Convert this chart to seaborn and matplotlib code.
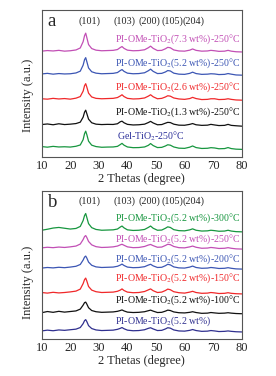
import numpy as np
import pandas as pd
import seaborn as sns
import matplotlib.pyplot as plt

# === Data ===
# shared 2-theta sampling positions (degree)
two_theta = [10, 12, 14, 16, 18, 20, 22, 23.5, 24.5, 25.0, 25.4, 25.8, 26.4, 27.5, 29, 31, 33, 35,
             36.5, 37.5, 38.1, 38.8, 40, 42, 44, 46, 47.3, 48.1, 49, 50.5, 52, 53.3, 54.1, 55.0, 56.2,
             58, 60, 61.8, 62.8, 64, 66, 68, 69.2, 70.5, 72, 74, 75.2, 76.3, 78, 80]

# panel a: intensity above each trace's own baseline (a.u.)
a_labels = ["Gel-TiO$_2$-250°C",
            "PI-OMe-TiO$_2$(1.3 wt%)-250°C",
            "PI-OMe-TiO$_2$(2.6 wt%)-250°C",
            "PI-OMe-TiO$_2$(5.2 wt%)-250°C",
            "PI-OMe-TiO$_2$(7.3 wt%)-250°C"]
a_gel = [2.6, 2.0, 2.8, 2.2, 2.4, 2.1, 2.9, 4.2, 9.5, 15.5, 18.0, 14.5, 8.0, 4.0, 2.6, 1.9, 2.1, 2.2,
         2.8, 4.6, 5.8, 4.0, 2.2, 1.5, 1.6, 2.2, 3.8, 5.6, 3.6, 1.6, 1.8, 3.2, 4.4, 4.0, 2.2,
         1.0, 0.8, 2.0, 3.2, 1.6, 0.7, 0.9, 1.5, 1.2, 0.4, 0.6, 1.6, 0.6, 0.0, -0.2]
a_13 = [1.6, 2.2, 1.4, 2.4, 1.6, 2.0, 2.6, 4.0, 9.0, 14.0, 16.0, 12.5, 7.0, 3.4, 2.0, 1.6, 1.8, 1.7,
        2.4, 4.4, 5.0, 3.4, 1.8, 1.2, 1.4, 2.0, 3.6, 4.8, 3.2, 1.4, 1.6, 3.0, 3.8, 3.6, 2.0,
        1.0, 0.9, 1.8, 2.6, 1.4, 0.8, 1.0, 1.8, 1.2, 0.6, 0.8, 1.8, 0.8, 0.4, 0.0]
a_26 = [1.4, 1.0, 1.8, 1.2, 1.6, 1.0, 2.0, 3.6, 9.0, 14.5, 16.5, 13.0, 7.0, 3.2, 1.8, 1.4, 1.6, 1.8,
        2.6, 4.2, 5.4, 3.6, 1.8, 1.2, 1.4, 2.2, 4.0, 5.4, 3.4, 1.4, 1.8, 3.2, 4.4, 4.0, 2.2,
        1.2, 0.8, 1.6, 2.8, 1.6, 0.6, 0.8, 1.4, 1.4, 0.6, 0.8, 1.4, 0.8, 0.2, 0.0]
a_52 = [1.2, 1.8, 1.0, 1.6, 1.2, 1.4, 2.2, 4.0, 10.0, 15.5, 17.5, 13.5, 7.2, 3.4, 2.0, 1.4, 1.6, 1.8,
        2.6, 4.6, 5.6, 3.8, 2.0, 1.4, 1.6, 2.4, 4.4, 6.0, 3.8, 1.6, 1.8, 3.2, 4.6, 4.2, 2.0,
        1.0, 0.8, 1.8, 3.0, 1.6, 0.8, 1.0, 1.4, 1.2, 0.6, 0.8, 1.6, 1.0, 0.2, 0.0]
a_73 = [1.0, 1.6, 1.2, 1.8, 1.0, 1.4, 2.2, 4.2, 10.5, 16.5, 19.0, 14.5, 7.6, 3.6, 2.0, 1.4, 1.6, 1.8,
        2.6, 4.6, 5.6, 3.8, 2.0, 1.4, 1.6, 2.4, 4.4, 6.0, 3.8, 1.6, 1.8, 3.4, 4.8, 4.4, 2.2,
        1.2, 1.0, 2.0, 3.2, 1.8, 1.0, 1.2, 1.8, 1.4, 0.8, 1.0, 1.8, 1.0, 0.4, 0.2]

# panel b
b_labels = ["PI-OMe-TiO$_2$(5.2 wt%)",
            "PI-OMe-TiO$_2$(5.2 wt%)-100°C",
            "PI-OMe-TiO$_2$(5.2 wt%)-150°C",
            "PI-OMe-TiO$_2$(5.2 wt%)-200°C",
            "PI-OMe-TiO$_2$(5.2 wt%)-250°C",
            "PI-OMe-TiO$_2$(5.2 wt%)-300°C"]
b_raw = [1.2, 2.0, 1.4, 2.2, 1.8, 2.4, 3.0, 4.6, 8.5, 11.5, 12.5, 10.5, 6.5, 3.6, 2.2, 1.6, 1.8, 2.0,
         2.8, 3.8, 4.6, 3.4, 2.0, 1.4, 1.6, 2.4, 3.8, 4.4, 3.2, 1.6, 1.8, 3.2, 4.4, 4.0, 2.2,
         1.2, 1.0, 1.8, 2.6, 1.6, 0.8, 1.0, 1.6, 1.2, 0.6, 0.8, 1.2, 0.8, 0.4, 0.2]
b_100 = [1.4, 2.6, 1.8, 2.8, 2.0, 2.6, 3.2, 5.0, 9.0, 11.5, 12.0, 10.0, 6.4, 3.6, 2.4, 1.8, 2.0, 2.2,
         2.8, 3.6, 4.2, 3.2, 2.0, 1.6, 1.8, 2.4, 3.4, 4.0, 3.0, 1.6, 1.8, 3.0, 4.0, 3.6, 2.2,
         1.4, 1.2, 1.8, 2.4, 1.6, 0.8, 1.0, 1.6, 1.2, 0.8, 1.0, 1.4, 1.0, 0.6, 0.4]
b_150 = [1.6, 1.0, 1.8, 1.2, 1.6, 2.2, 3.0, 5.0, 10.5, 14.5, 16.0, 13.0, 7.6, 4.0, 2.4, 1.6, 1.8, 2.0,
         2.8, 4.0, 5.2, 3.6, 2.0, 1.4, 1.6, 2.6, 4.2, 5.2, 3.4, 1.6, 2.0, 3.6, 5.0, 4.4, 2.4,
         1.4, 1.0, 2.0, 2.8, 1.6, 0.8, 1.0, 1.6, 1.2, 0.6, 0.8, 1.4, 0.8, 0.4, 0.2]
b_200 = [1.0, 1.6, 1.2, 1.8, 1.4, 2.0, 2.8, 4.6, 9.0, 12.0, 13.0, 11.0, 7.0, 3.8, 2.2, 1.6, 1.8, 2.0,
         2.8, 4.0, 5.0, 3.6, 2.0, 1.4, 1.6, 2.4, 4.0, 4.8, 3.2, 1.6, 1.8, 3.4, 4.8, 4.2, 2.2,
         1.2, 1.0, 2.0, 3.0, 1.6, 0.8, 1.0, 1.6, 1.2, 0.6, 0.8, 1.4, 0.8, 0.2, 0.0]
b_250 = [1.2, 1.8, 1.4, 2.0, 1.6, 2.2, 3.0, 5.0, 9.5, 12.5, 13.5, 11.5, 7.6, 4.2, 2.4, 1.6, 1.8, 2.2,
         3.0, 4.2, 4.8, 3.8, 2.2, 1.4, 1.6, 2.6, 4.0, 4.6, 3.4, 1.8, 2.0, 3.6, 4.8, 4.4, 2.6,
         1.4, 1.2, 2.2, 3.0, 1.8, 0.8, 1.0, 1.6, 1.2, 0.6, 0.8, 1.4, 0.8, 0.2, 0.0]
b_300 = [1.8, 2.8, 4.0, 4.6, 3.8, 3.0, 3.6, 5.6, 11.5, 16.5, 18.5, 14.5, 8.4, 4.4, 2.6, 1.8, 2.0, 2.2,
         3.0, 5.0, 6.0, 4.2, 2.2, 1.6, 1.8, 2.6, 4.6, 6.0, 3.8, 1.8, 2.0, 3.8, 5.2, 4.6, 2.4,
         1.4, 1.2, 2.2, 3.2, 1.8, 1.0, 1.2, 1.8, 1.4, 0.8, 1.0, 1.8, 1.0, 0.4, 0.2]

peak_labels = ["(101)", "(103)", "(200)", "(105)", "(204)"]
peak_pos = [26.6, 38.8, 47.6, 55.6, 63.0]

# === Layout / style ===
a_offsets = [8, 31, 57, 82, 105]
a_text_y = [21, 45, 70, 94, 118]
a_text_x = [36.2, 79.5, 79.5, 79.5, 79.5]
a_text_ha = ["left", "right", "right", "right", "right"]
a_colors = ["#17963f", "#111111", "#f0282a", "#3c56b4", "#c24fb5"]
a_text_colors = ["#2b2f9a", "#111111", "#f0282a", "#3c56b4", "#c24fb5"]

b_offsets = [7, 25, 45, 70, 90, 107]
b_text_y = [18, 39, 61, 80, 100, 121]
b_text_x = [35.6, 79.5, 79.5, 79.5, 79.5, 79.5]
b_text_ha = ["left", "right", "right", "right", "right", "right"]
b_colors = ["#30308f", "#111111", "#f0282a", "#3c56b4", "#c24fb5", "#17963f"]


def long_table(labels, series, offsets):
    rows = []
    for lab, ys, off in zip(labels, series, offsets):
        for x, y in zip(two_theta, ys):
            rows.append({"2theta": x, "I": y + off, "sample": lab})
    return pd.DataFrame(rows)


sns.set_style("white")
plt.rcParams["font.family"] = ["Liberation Serif", "DejaVu Serif"]
plt.rcParams["mathtext.fontset"] = "stix"

fig = plt.figure(figsize=(2.76, 3.76), dpi=100)
ax_a = fig.add_axes([0.151, 0.582, 0.725, 0.391])
ax_b = fig.add_axes([0.151, 0.098, 0.725, 0.394])

panels = [
    (ax_a, "a", a_labels, [a_gel, a_13, a_26, a_52, a_73], a_offsets, a_colors, a_text_colors,
     a_text_x, a_text_y, a_text_ha, 147, 136, 0.418),
    (ax_b, "b", b_labels, [b_raw, b_100, b_150, b_200, b_250, b_300], b_offsets, b_colors, b_colors,
     b_text_x, b_text_y, b_text_ha, 148, 138, 0.385),
]

for ax, tag, labels, series, offsets, colors, tcolors, tx, ty, tha, top, peak_y, ylab_y in panels:
    df = long_table(labels, series, offsets)
    sns.lineplot(data=df, x="2theta", y="I", hue="sample", hue_order=labels,
                 palette=colors, linewidth=0.9, legend=False, ax=ax, estimator=None)
    ax.set_xlim(10, 80)
    ax.set_ylim(0, top)
    ax.set_xticks(range(10, 81, 10))
    ax.set_yticks([])
    ax.tick_params(axis="x", labelsize=9, pad=2, length=0)
    ax.set_xlabel("2 Thetas (degree)", fontsize=9, labelpad=1)
    ax.set_ylabel("Intensity (a.u.)", fontsize=9)
    ax.yaxis.set_label_coords(-0.04, ylab_y)
    for s in ax.spines.values():
        s.set_color("#555555")
        s.set_linewidth(0.8)
    ax.text(0.03, 0.89, tag, transform=ax.transAxes, fontsize=13.5, va="baseline", ha="left")
    for lab, px in zip(peak_labels, peak_pos):
        ax.text(px, peak_y, lab, fontsize=7.3, ha="center", va="center")
    for lab, x, y, ha, c in zip(labels, tx, ty, tha, tcolors):
        ax.text(x, y, lab, color=c, fontsize=7.1, ha=ha, va="center")

fig.savefig("out.png", dpi=100)
